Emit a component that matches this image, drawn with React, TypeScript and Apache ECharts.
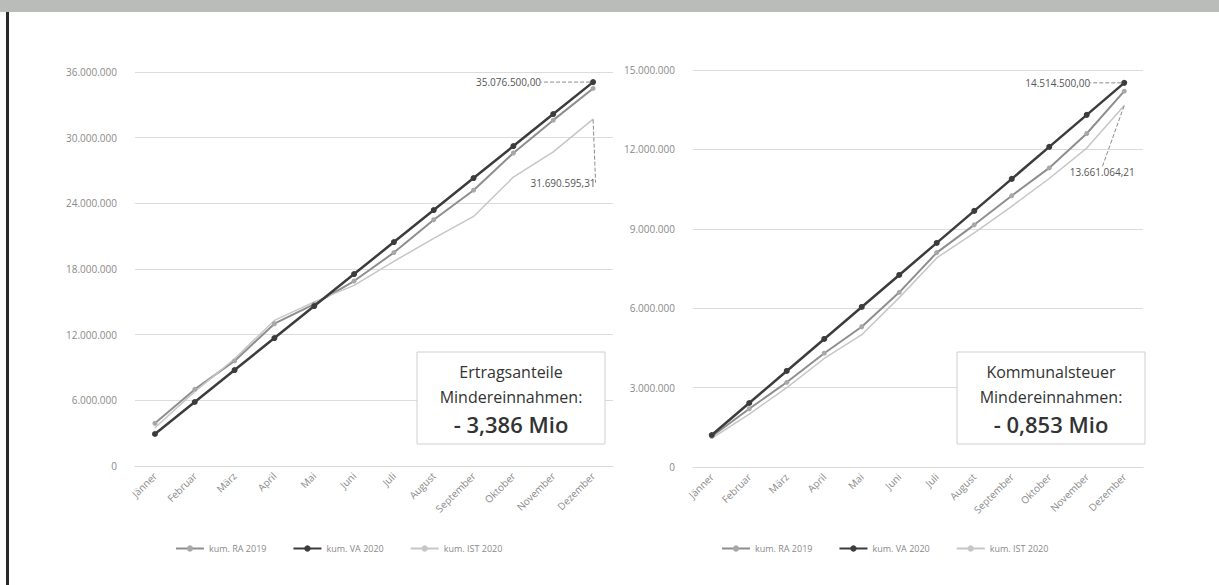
import React, { useEffect, useRef } from "react";
import * as echarts from "echarts";

const months = ["Jänner", "Februar", "März", "April", "Mai", "Juni", "Juli", "August", "September", "Oktober", "November", "Dezember"];
const seriesNames = ["kum. RA 2019", "kum. VA 2020", "kum. IST 2020"];

const leftRA2019 = [3900000, 7000000, 9600000, 13000000, 14800000, 16900000, 19500000, 22500000, 25200000, 28600000, 31600000, 34500000];
const leftVA2020 = [2923000, 5846000, 8769000, 11692000, 14615000, 17538000, 20462000, 23385000, 26308000, 29231000, 32154000, 35076500.0];
const leftIST2020 = [3500000, 6800000, 9800000, 13300000, 15000000, 16500000, 18700000, 20800000, 22800000, 26400000, 28700000, 31690595.31];
const leftTicks = [0, 6000000, 12000000, 18000000, 24000000, 30000000, 36000000];

const rightRA2019 = [1150000, 2200000, 3200000, 4300000, 5300000, 6600000, 8100000, 9150000, 10250000, 11300000, 12600000, 14200000];
const rightVA2020 = [1209500, 2419000, 3628600, 4838000, 6047700, 7257200, 8466800, 9676300, 10885900, 12095400, 13305000, 14514500.0];
const rightIST2020 = [1080000, 2000000, 3000000, 4100000, 5000000, 6400000, 7900000, 8850000, 9850000, 10900000, 12050000, 13661064.21];
const rightTicks = [0, 3000000, 6000000, 9000000, 12000000, 15000000];

const boxLeft = ["Ertragsanteile", "Mindereinnahmen:", "- 3,386 Mio"];
const boxRight = ["Kommunalsteuer", "Mindereinnahmen:", "- 0,853 Mio"];

const dots = (v: number) => Math.round(v).toString().replace(/\B(?=(\d{3})+(?!\d))/g, ".");
const money = (v: number) => {
  const [i, d] = v.toFixed(2).split(".");
  return i.replace(/\B(?=(\d{3})+(?!\d))/g, ".") + "," + d;
};

const C_VA = "#3c3c3c";
const C_RA = "#8e8e8e";
const C_IST = "#c6c6c6";
const FONT = "'Open Sans', 'Noto Sans', sans-serif";

export default function App() {
  const ref = useRef<HTMLDivElement>(null);
  useEffect(() => {
    document.body.style.margin = "0";
    const chart = echarts.init(ref.current!, null, { renderer: "svg" });

    const grids = [
      { left: 135, top: 72, width: 478, height: 394 },
      { left: 693, top: 70, width: 450, height: 397 },
    ];
    const mkX = (i: number) => ({
      type: "category",
      gridIndex: i,
      data: months,
      boundaryGap: true,
      axisLine: { show: true, lineStyle: { color: "#d9d9d9" } },
      axisTick: { show: false },
      axisLabel: { rotate: 45, color: "#8a8a8a", fontSize: 10, fontFamily: FONT, margin: 8, interval: 0 },
    });
    const mkY = (i: number, ticks: number[]) => ({
      type: "value",
      gridIndex: i,
      min: 0,
      max: ticks[ticks.length - 1],
      interval: ticks[1] - ticks[0],
      axisLine: { show: false },
      axisTick: { show: false },
      splitLine: { lineStyle: { color: "#dcdcdc", width: 1 } },
      axisLabel: { color: "#8a8a8a", fontSize: 10, fontFamily: FONT, margin: 18, formatter: (v: number) => dots(v) },
    });

    const lastLabeled = (arr: number[], position: string, dx: number, dy: number) =>
      arr.map((v, i) =>
        i === arr.length - 1
          ? {
              value: v,
              label: {
                show: true,
                position,
                formatter: (p: any) => money(p.value),
                color: "#555",
                fontSize: 10,
                fontFamily: FONT,
              },
              labelLine: { show: true, lineStyle: { color: "#8a8a8a", width: 1, type: "dashed" } },
              labelLayout: { dx, dy },
            }
          : v
      );

    const mkSeries = (gi: number, ra: number[], va: number[], ist: number[], vaLbl: [number, number], istLbl: [number, number]) => [
      {
        name: seriesNames[0], type: "line", xAxisIndex: gi, yAxisIndex: gi, data: ra,
        symbol: "circle", symbolSize: 5, showSymbol: true,
        lineStyle: { color: C_RA, width: 2 }, itemStyle: { color: "#a8a8a8" },
      },
      {
        name: seriesNames[1], type: "line", xAxisIndex: gi, yAxisIndex: gi,
        data: lastLabeled(va, "left", vaLbl[0], vaLbl[1]),
        symbol: "circle", symbolSize: 6,
        lineStyle: { color: C_VA, width: 2.5 }, itemStyle: { color: C_VA },
        labelLayout: (p: any) => (p.dataIndex === 11 ? { dx: vaLbl[0], dy: vaLbl[1] } : {}),
        z: 5,
      },
      {
        name: seriesNames[2], type: "line", xAxisIndex: gi, yAxisIndex: gi,
        data: lastLabeled(ist, "bottom", istLbl[0], istLbl[1]),
        symbol: "circle", symbolSize: 1,
        lineStyle: { color: C_IST, width: 1.5 }, itemStyle: { color: C_IST },
        labelLayout: (p: any) => (p.dataIndex === 11 ? { dx: istLbl[0], dy: istLbl[1] } : {}),
      },
    ];

    const legendCommon = {
      itemWidth: 28, itemHeight: 8, itemGap: 26,
      textStyle: { color: "#8a8a8a", fontSize: 9, fontFamily: FONT },
    };

    const box = (cx: number, top: number, lines: string[]) => ({
      type: "group",
      z: 100,
      children: [
        { type: "rect", z: 100, shape: { x: cx - 94, y: top, width: 188, height: 92 }, style: { fill: "#fff", stroke: "#cfcfcf", lineWidth: 1 } },
        { type: "text", z: 101, x: cx, y: top + 20, style: { text: lines[0], textAlign: "center", textVerticalAlign: "middle", fontSize: 16, fontFamily: FONT, fill: "#333" } },
        { type: "text", z: 101, x: cx, y: top + 45, style: { text: lines[1], textAlign: "center", textVerticalAlign: "middle", fontSize: 16, fontFamily: FONT, fill: "#333" } },
        { type: "text", z: 101, x: cx, y: top + 72, style: { text: lines[2], textAlign: "center", textVerticalAlign: "middle", fontSize: 22, fontWeight: 600, fontFamily: FONT, fill: "#333" } },
      ],
    });

    chart.setOption({
      animation: false,
      backgroundColor: "#ffffff",
      grid: grids,
      xAxis: [mkX(0), mkX(1)],
      yAxis: [mkY(0, leftTicks), mkY(1, rightTicks)],
      legend: [
        { ...legendCommon, left: 170, top: 539, data: seriesNames },
        { ...legendCommon, left: 716, top: 539, data: seriesNames },
      ],
      series: [
        ...mkSeries(0, leftRA2019, leftVA2020, leftIST2020, [-44, 0], [-30, 53]),
        ...mkSeries(1, rightRA2019, rightVA2020, rightIST2020, [-26, 0], [-22, 56]),
      ],
      graphic: [
        { type: "rect", shape: { x: 0, y: 0, width: 1219, height: 12 }, style: { fill: "#b9bcb8" }, z: 10 },
        { type: "rect", shape: { x: 6, y: 12, width: 3, height: 573 }, style: { fill: "#2a2a2a" }, z: 10 },
        box(511, 352, boxLeft),
        box(1051, 352, boxRight),
      ],
    });
    return () => chart.dispose();
  }, []);
  return <div ref={ref} style={{ width: 1219, height: 585 }} />;
}
